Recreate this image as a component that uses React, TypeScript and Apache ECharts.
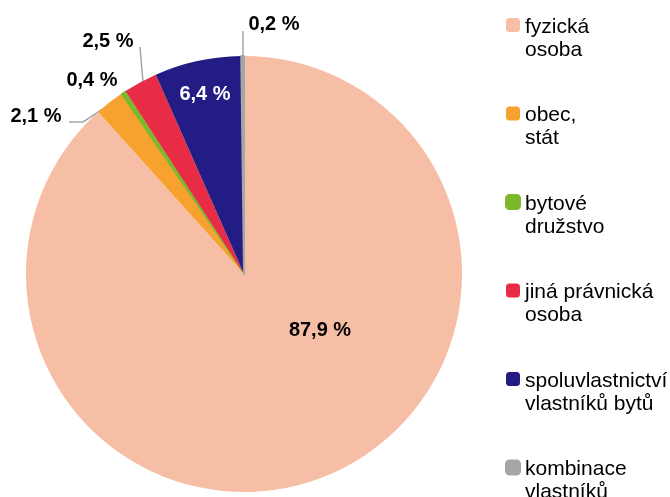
import React, { useEffect, useRef } from "react";
import * as echarts from "echarts";

const categories = [
  "fyzická\nosoba",
  "obec,\nstát",
  "bytové\ndružstvo",
  "jiná právnická\nosoba",
  "spoluvlastnictví\nvlastníků bytů",
  "kombinace\nvlastníků",
];
const shares = [87.9, 2.1, 0.4, 2.5, 6.4, 0.2];
const colors = ["#F7BEA6", "#F7A12F", "#7BB82A", "#E92C45", "#241C85", "#A6A6A6"];
const borderWidths = [0, 0, 0.8, 0, 0, 2];
const insideLabel = [true, false, false, false, true, false];
const labelColors = ["#000000", "#000000", "#000000", "#000000", "#FFFFFF", "#000000"];

// label placement (layout only)
const labelPlacement: any[] = [
  { x: 320, y: 329 },
  { x: 36, y: 115, line: [[112, 103], [83, 122], [69, 122]] },
  { x: 92, y: 79 },
  { x: 108, y: 40, line: [[143, 82], [140, 47]] },
  { x: 205, y: 93 },
  { x: 274, y: 23, line: [[243, 55], [243, 31]] },
];

const fmt = (v: number) => v.toFixed(1).replace(".", ",") + " %";

export default function App() {
  const ref = useRef<HTMLDivElement>(null);
  useEffect(() => {
    if (!ref.current) return;
    const chart = echarts.init(ref.current, undefined, { renderer: "svg" });
    chart.setOption({
      animation: false,
      textStyle: { fontFamily: "Liberation Sans, Arial, sans-serif" },
      legend: {
        orient: "vertical",
        left: 505,
        top: -9.5,
        height: 700,
        padding: 0,
        itemWidth: 14,
        itemHeight: 14,
        itemGap: 19.5,
        icon: "roundRect",
        selectedMode: false,
        formatter: (name: string) => "\n" + name,
        textStyle: {
          fontSize: 21,
          lineHeight: 23,
          color: "#000",
          fontFamily: "Liberation Sans, Arial, sans-serif",
        },
        data: categories,
      },
      series: [
        {
          type: "pie",
          center: [244, 274],
          radius: 218,
          startAngle: 90,
          clockwise: true,
          avoidLabelOverlap: false,
          label: {
            fontSize: 20,
            fontWeight: "bold",
            fontFamily: "Liberation Sans, Arial, sans-serif",
          },
          labelLine: { lineStyle: { color: "#A6A6A6", width: 1.5 } },
          labelLayout: (params: any) => {
            const p = labelPlacement[params.dataIndex];
            const r: any = { x: p.x, y: p.y, align: "center", verticalAlign: "middle" };
            if (p.line) r.labelLinePoints = p.line;
            return r;
          },
          data: categories.map((name, i) => ({
            name,
            value: shares[i],
            itemStyle: {
              color: colors[i],
              borderColor: colors[i],
              borderWidth: borderWidths[i],
            },
            label: {
              show: true,
              position: insideLabel[i] ? "inside" : "outside",
              color: labelColors[i],
              formatter: () => fmt(shares[i]),
            },
            labelLine: { show: !!labelPlacement[i].line },
          })),
        },
      ],
    });
    return () => chart.dispose();
  }, []);
  return (
    <div
      ref={ref}
      style={{ position: "fixed", left: 0, top: 0, width: 670, height: 497 }}
    />
  );
}
